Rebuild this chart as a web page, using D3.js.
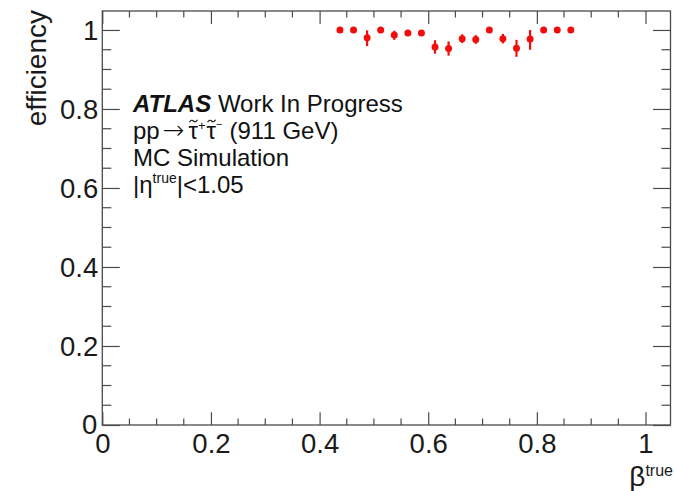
<!DOCTYPE html>
<html>
<head>
<meta charset="utf-8">
<script src="https://cdn.jsdelivr.net/npm/d3@7/dist/d3.min.js"></script>
<style>
  html, body { margin: 0; padding: 0; background: #fff; }
  svg { display: block; font-family: "Liberation Sans", Arial, Helvetica, sans-serif; }
</style>
</head>
<body>
<svg id="chart" width="674" height="491"></svg>
<script>
// Efficiency vs beta (bin centres, bin width 0.025)
const binCenters = [0.4375, 0.4625, 0.4875, 0.5125, 0.5375, 0.5625, 0.5875, 0.6125, 0.6375,
                    0.6625, 0.6875, 0.7125, 0.7375, 0.7625, 0.7875, 0.8125, 0.8375, 0.8625];
const efficiency = [1.000, 1.000, 0.980, 1.000, 0.987, 0.992, 0.992, 0.957, 0.953,
                    0.978, 0.976, 1.000, 0.978, 0.954, 0.977, 1.000, 1.000, 1.000];
const errLow     = [0.004, 0.004, 0.021, 0.004, 0.012, 0.007, 0.007, 0.017, 0.018,
                    0.011, 0.011, 0.004, 0.012, 0.022, 0.027, 0.004, 0.004, 0.004];
const errHigh    = [0.000, 0.000, 0.019, 0.000, 0.011, 0.006, 0.006, 0.017, 0.018,
                    0.011, 0.011, 0.000, 0.012, 0.021, 0.023, 0.000, 0.000, 0.000];

const xTicks = [0, 0.2, 0.4, 0.6, 0.8, 1];
const yTicks = [0, 0.2, 0.4, 0.6, 0.8, 1];
const xDomain = [0, 1.046];
const yDomain = [0, 1.048];

const svg = d3.select("#chart");
const frame = { left: 102.3, right: 670.5, top: 11, bottom: 425 };

const x = d3.scaleLinear().domain(xDomain).range([frame.left, frame.right]);
const y = d3.scaleLinear().domain(yDomain).range([frame.bottom, frame.top]);

const axisColor = "#4a4a4a";
const textColor = "#1a1a1a";
const minorStep = 0.05;
const minorX = d3.range(0, xDomain[1] + 1e-9, minorStep).filter(v => !xTicks.some(t => Math.abs(t - v) < 1e-6));
const minorY = d3.range(0, yDomain[1] + 1e-9, minorStep).filter(v => !yTicks.some(t => Math.abs(t - v) < 1e-6));

// Bottom axis (labels) and mirrored top axis (ticks only)
const xBottom = d3.axisBottom(x).tickValues(xTicks).tickSizeInner(-12.7).tickSizeOuter(0)
  .tickFormat(d => d === 0 ? "0" : d3.format("")(d));
const gxb = svg.append("g").attr("transform", `translate(0,${frame.bottom})`).call(xBottom);
gxb.select(".domain").remove();
gxb.selectAll("line").attr("stroke", axisColor).attr("stroke-width", 1.2);
gxb.selectAll("text").attr("fill", textColor).attr("font-size", 27.5).attr("dy", null).attr("y", 27.5);

svg.append("g").selectAll("line").data(minorX).join("line")
  .attr("x1", d => x(d)).attr("x2", d => x(d))
  .attr("y1", frame.bottom).attr("y2", frame.bottom - 6.5)
  .attr("stroke", axisColor).attr("stroke-width", 1.2);

const xTop = d3.axisTop(x).tickValues(xTicks).tickSizeInner(-13).tickSizeOuter(0).tickFormat("");
const gxt = svg.append("g").attr("transform", `translate(0,${frame.top})`).call(xTop);
gxt.select(".domain").remove();
gxt.selectAll("line").attr("stroke", axisColor).attr("stroke-width", 1.2);
svg.append("g").selectAll("line").data(minorX).join("line")
  .attr("x1", d => x(d)).attr("x2", d => x(d))
  .attr("y1", frame.top).attr("y2", frame.top + 6.5)
  .attr("stroke", axisColor).attr("stroke-width", 1.2);

// Left axis (labels) and mirrored right axis (ticks only)
const yLeft = d3.axisLeft(y).tickValues(yTicks).tickSizeInner(-17.5).tickSizeOuter(0)
  .tickFormat(d => d === 0 ? "0" : d3.format("")(d));
const gyl = svg.append("g").attr("transform", `translate(${frame.left},0)`).call(yLeft);
gyl.select(".domain").remove();
gyl.selectAll("line").attr("stroke", axisColor).attr("stroke-width", 1.2);
gyl.selectAll("text").attr("fill", textColor).attr("font-size", 27.5).attr("x", -4).attr("dy", "0.36em");
gyl.selectAll(".tick").filter(d => d === 0).select("text").attr("x", -5).attr("dy", "0.3em");

svg.append("g").selectAll("line").data(minorY).join("line")
  .attr("x1", frame.left).attr("x2", frame.left + 9)
  .attr("y1", d => y(d)).attr("y2", d => y(d))
  .attr("stroke", axisColor).attr("stroke-width", 1.2);

const yRight = d3.axisRight(y).tickValues(yTicks).tickSizeInner(-17.5).tickSizeOuter(0).tickFormat("");
const gyr = svg.append("g").attr("transform", `translate(${frame.right},0)`).call(yRight);
gyr.select(".domain").remove();
gyr.selectAll("line").attr("stroke", axisColor).attr("stroke-width", 1.2);
svg.append("g").selectAll("line").data(minorY).join("line")
  .attr("x1", frame.right).attr("x2", frame.right - 9)
  .attr("y1", d => y(d)).attr("y2", d => y(d))
  .attr("stroke", axisColor).attr("stroke-width", 1.2);

// Frame
svg.append("rect")
  .attr("x", frame.left).attr("y", frame.top)
  .attr("width", frame.right - frame.left).attr("height", frame.bottom - frame.top)
  .attr("fill", "none").attr("stroke", axisColor).attr("stroke-width", 1.3);

// Axis titles
svg.append("text")
  .attr("transform", `translate(46,10) rotate(-90)`)
  .attr("text-anchor", "end")
  .attr("font-size", 28).attr("fill", textColor)
  .text("efficiency");

const xt = svg.append("text")
  .attr("x", 673).attr("y", 486)
  .attr("text-anchor", "end").attr("fill", textColor);
xt.append("tspan").attr("font-size", 28).text("β");
xt.append("tspan").attr("font-size", 16).attr("dy", -10).text("true");

// Efficiency points with asymmetric error bars
const pts = binCenters.map((b, i) => ({ b, e: efficiency[i], lo: errLow[i], hi: errHigh[i] }));
const red = "#f20d0d";
svg.append("g").selectAll("line").data(pts).join("line")
  .attr("x1", d => x(d.b)).attr("x2", d => x(d.b))
  .attr("y1", d => y(d.e - d.lo)).attr("y2", d => y(d.e + d.hi))
  .attr("stroke", red).attr("stroke-width", 2.2);
svg.append("g").selectAll("circle").data(pts).join("circle")
  .attr("cx", d => x(d.b)).attr("cy", d => y(d.e))
  .attr("r", 3.5).attr("fill", red);

// Label block
const lx = 133;
const fs = 24;
const t1 = svg.append("text").attr("x", lx).attr("y", 112).attr("font-size", fs).attr("fill", "#111");
t1.append("tspan").attr("font-weight", "bold").attr("font-style", "italic").text("ATLAS");
t1.append("tspan").text(" Work In Progress");

// Process line: pieces laid out left to right, tildes drawn as small waves over the taus
const g2 = svg.append("g").attr("fill", "#111");
let cx = lx;
const base2 = 139;
function piece(str, opts = {}) {
  const t = g2.append("text")
    .attr("x", cx).attr("y", base2 + (opts.dy || 0))
    .attr("font-size", opts.size || fs)
    .text(str);
  if (opts.family) t.attr("font-family", opts.family);
  if (opts.weight) t.attr("font-weight", opts.weight);
  const w = t.node().getComputedTextLength();
  const start = cx;
  cx += w + (opts.gap || 0);
  return { start, w };
}
function tilde(p) {
  const x0 = p.start + 1, x1 = p.start + p.w - 0.5, ty = base2 - 18;
  const q = (x1 - x0) / 4;
  g2.append("path")
    .attr("d", `M${x0},${ty + 1.2} Q${x0 + q},${ty - 2} ${x0 + 2 * q},${ty} T${x1},${ty - 1.2}`)
    .attr("fill", "none").attr("stroke", "#111").attr("stroke-width", 1.2);
}
piece("pp", { gap: 3 });
piece("→", { family: "DejaVu Sans", size: 26, weight: 200, gap: 4 });
const tau1 = piece("τ");
tilde(tau1);
piece("+", { size: 13, dy: -9, gap: 1 });
const tau2 = piece("τ");
tilde(tau2);
piece("−", { size: 11, dy: -11, gap: 7 });
piece(" (911 GeV)");

svg.append("text").attr("x", lx).attr("y", 166).attr("font-size", fs).attr("fill", "#111")
  .text("MC Simulation");

const t4 = svg.append("text").attr("x", lx).attr("y", 193).attr("font-size", fs).attr("fill", "#111");
t4.append("tspan").text("|η");
t4.append("tspan").attr("font-size", 14).attr("dy", -10).text("true");
t4.append("tspan").attr("dy", 10).text("|<1.05");
</script>
</body>
</html>
